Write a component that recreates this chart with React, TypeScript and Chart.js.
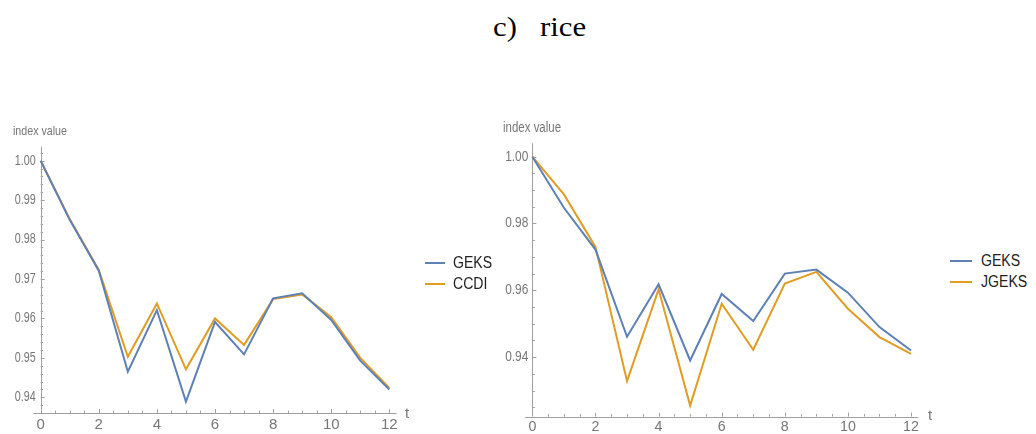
import React, { useEffect, useRef } from "react";
import { Chart, registerables } from "chart.js";

Chart.register(...registerables);

const periods = [0, 1, 2, 3, 4, 5, 6, 7, 8, 9, 10, 11, 12];
const leftGEKS = [1.0, 0.985, 0.9721, 0.9465, 0.9621, 0.9389, 0.9591, 0.9509, 0.9651, 0.9664, 0.9596, 0.9493, 0.942];
const leftCCDI = [1.0, 0.9852, 0.9723, 0.9503, 0.9638, 0.9471, 0.96, 0.9533, 0.9649, 0.9661, 0.9603, 0.95, 0.9424];
const rightGEKS = [1.0, 0.9847, 0.9722, 0.9461, 0.9618, 0.939, 0.9589, 0.9508, 0.965, 0.9662, 0.9593, 0.949, 0.942];
const rightJGEKS = [1.0, 0.9887, 0.973, 0.9328, 0.9603, 0.9255, 0.956, 0.9422, 0.962, 0.9655, 0.9545, 0.946, 0.941];
const xTickLabels = [0, 2, 4, 6, 8, 10, 12];
const leftYTicks = [0.94, 0.95, 0.96, 0.97, 0.98, 0.99, 1.0];
const rightYTicks = [0.94, 0.96, 0.98, 1.0];

const BLUE = "#5E81B5";
const ORANGE = "#E19C24";
const AXIS = "#a0a0a0";
const LABEL = "#767676";
const SANS = '"Liberation Sans", Arial, sans-serif';

type Cfg = {
  names: [string, string];
  a: number[];
  b: number[];
  yTicks: number[];
  xMin: number;
  xMax: number;
  yMin: number;
  yMax: number;
  yMinor: number;
  left: number;
  top: number;
  right: number;
  bottom: number;
  font: number;
  sx: number;
  xFont: number;
  xSx: number;
  yGap: number;
  xOff: number;
};

const axesPlugin = (cfg: Cfg) => ({
  id: "mmaAxes",
  beforeDatasetsDraw(chart: any) {
    const ctx = chart.ctx;
    const xs = chart.scales.x;
    const ys = chart.scales.y;
    const x0 = xs.getPixelForValue(0);
    const yb = ys.getPixelForValue(cfg.yMin);
    ctx.save();
    ctx.strokeStyle = AXIS;
    ctx.lineWidth = 1;
    ctx.beginPath();
    ctx.moveTo(xs.getPixelForValue(cfg.xMin), Math.round(yb) + 0.5);
    ctx.lineTo(xs.getPixelForValue(cfg.xMax), Math.round(yb) + 0.5);
    ctx.moveTo(Math.round(x0) + 0.5, yb);
    ctx.lineTo(Math.round(x0) + 0.5, ys.getPixelForValue(cfg.yMax));
    for (let v = 0.5; v <= 12.001; v += 0.5) {
      const px = Math.round(xs.getPixelForValue(v)) + 0.5;
      const major = Math.abs(v / 2 - Math.round(v / 2)) < 1e-6;
      ctx.moveTo(px, yb);
      ctx.lineTo(px, yb - (major ? 4 : 2.5));
    }
    const start = Math.ceil(cfg.yMin / cfg.yMinor - 1e-6) * cfg.yMinor;
    for (let i = 0; i < 100; i++) {
      const v = start + i * cfg.yMinor;
      if (v > cfg.yMax + 1e-9) break;
      const py = Math.round(ys.getPixelForValue(v)) + 0.5;
      const major = cfg.yTicks.some((t) => Math.abs(t - v) < 1e-6);
      ctx.moveTo(x0, py);
      ctx.lineTo(x0 + (major ? 4 : 2.5), py);
    }
    ctx.stroke();

    // tick labels, taken from the scales' own ticks
    ctx.fillStyle = LABEL;
    ctx.textBaseline = "middle";
    ctx.textAlign = "center";
    ctx.font = `${cfg.xFont}px ${SANS}`;
    for (const t of xs.ticks) {
      ctx.save();
      ctx.translate(xs.getPixelForValue(t.value), yb + cfg.xOff);
      ctx.scale(cfg.xSx, 1);
      ctx.fillText(String(t.value), 0, 0);
      ctx.restore();
    }
    ctx.textAlign = "right";
    ctx.font = `${cfg.font}px ${SANS}`;
    for (const t of ys.ticks) {
      ctx.save();
      ctx.translate(x0 - cfg.yGap, ys.getPixelForValue(t.value));
      ctx.scale(cfg.sx, 1);
      ctx.fillText(Number(t.value).toFixed(2), 0, 0);
      ctx.restore();
    }
    ctx.restore();
  },
});

function MmaChart({ cfg, width, height }: { cfg: Cfg; width: number; height: number }) {
  const ref = useRef<HTMLCanvasElement | null>(null);
  useEffect(() => {
    if (!ref.current) return;
    const chart = new Chart(ref.current, {
      type: "line",
      data: {
        labels: periods,
        datasets: [
          {
            label: cfg.names[0],
            data: periods.map((t, i) => ({ x: t, y: cfg.a[i] })),
            borderColor: BLUE,
            backgroundColor: BLUE,
            borderWidth: 2,
            pointRadius: 0,
            tension: 0,
          },
          {
            label: cfg.names[1],
            data: periods.map((t, i) => ({ x: t, y: cfg.b[i] })),
            borderColor: ORANGE,
            backgroundColor: ORANGE,
            borderWidth: 2,
            pointRadius: 0,
            tension: 0,
          },
        ],
      },
      options: {
        responsive: false,
        animation: false,
        layout: { padding: { left: 0, top: cfg.top, right: cfg.right, bottom: 0 } },
        plugins: { legend: { display: false }, tooltip: { enabled: false } },
        scales: {
          x: {
            type: "linear",
            min: cfg.xMin,
            max: cfg.xMax,
            grid: { display: false },
            border: { display: false },
            afterBuildTicks: (s: any) => {
              s.ticks = xTickLabels.map((v) => ({ value: v }));
            },
            afterFit: (s: any) => {
              s.height = cfg.bottom;
            },
            ticks: { display: false },
          },
          y: {
            type: "linear",
            min: cfg.yMin,
            max: cfg.yMax,
            grid: { display: false },
            border: { display: false },
            afterBuildTicks: (s: any) => {
              s.ticks = cfg.yTicks.map((v) => ({ value: v }));
            },
            afterFit: (s: any) => {
              s.width = cfg.left;
            },
            ticks: { display: false },
          },
        },
      },
      plugins: [axesPlugin(cfg)],
    });
    return () => chart.destroy();
  }, []);
  return <canvas ref={ref} width={width} height={height} style={{ display: "block" }} />;
}

const leftCfg: Cfg = {
  names: ["GEKS", "CCDI"],
  a: leftGEKS,
  b: leftCCDI,
  yTicks: leftYTicks,
  xMin: -0.25,
  xMax: 12.25,
  yMin: 0.936,
  yMax: 1.0035,
  yMinor: 0.002,
  left: 33.4,
  top: 36.9,
  right: 23.4,
  bottom: 20.9,
  font: 14,
  sx: 0.77,
  xFont: 15,
  xSx: 1.0,
  yGap: 5,
  xOff: 12,
};

const rightCfg: Cfg = {
  names: ["GEKS", "JGEKS"],
  a: rightGEKS,
  b: rightJGEKS,
  yTicks: rightYTicks,
  xMin: -0.23,
  xMax: 12.23,
  yMin: 0.9222,
  yMax: 1.004,
  yMinor: 0.005,
  left: 55.1,
  top: 33.3,
  right: 21.7,
  bottom: 17.4,
  font: 14,
  sx: 0.85,
  xFont: 15,
  xSx: 0.95,
  yGap: 4,
  xOff: 10.5,
};

const abs = (left: number, top: number, extra: React.CSSProperties = {}): React.CSSProperties => ({
  position: "absolute",
  left,
  top,
  whiteSpace: "nowrap",
  ...extra,
});

const squeeze = (sx: number): React.CSSProperties => ({ transform: `scaleX(${sx})`, transformOrigin: "0 50%" });

function LegendItem({ x, y, lineW, textX, color, text }: { x: number; y: number; lineW: number; textX: number; color: string; text: string }) {
  return (
    <>
      <div style={abs(x, y - 1, { width: lineW, height: 2, background: color })} />
      <div style={abs(textX, y - 9, { font: `16px ${SANS}`, lineHeight: "18px", color: "#222", ...squeeze(0.88) })}>{text}</div>
    </>
  );
}

const TITLE_FONT = '28px "Liberation Serif", "Times New Roman", serif';

export default function App() {
  return (
    <div style={{ position: "absolute", left: 0, top: 0, width: 1036, height: 434, background: "#fff", overflow: "hidden" }}>
      <div style={abs(493, 13, { font: TITLE_FONT, lineHeight: "28px", color: "#000", ...squeeze(1.1) })}>c)</div>
      <div style={abs(540, 13, { font: TITLE_FONT, lineHeight: "28px", color: "#000", ...squeeze(1.1) })}>rice</div>

      <div style={abs(0, 110, { width: 420, height: 324 })}>
        <MmaChart cfg={leftCfg} width={420} height={324} />
      </div>
      <div style={abs(470, 110, { width: 470, height: 324 })}>
        <MmaChart cfg={rightCfg} width={470} height={324} />
      </div>

      <div style={abs(13, 124, { font: `13px ${SANS}`, lineHeight: "13px", color: LABEL, ...squeeze(0.82) })}>index value</div>
      <div style={abs(503, 120, { font: `14px ${SANS}`, lineHeight: "14px", color: LABEL, ...squeeze(0.82) })}>index value</div>
      <div style={abs(405, 405, { font: `15px ${SANS}`, lineHeight: "15px", color: LABEL })}>t</div>
      <div style={abs(928, 407, { font: `15px ${SANS}`, lineHeight: "15px", color: LABEL })}>t</div>

      <LegendItem x={425} y={263} lineW={20} textX={453} color={BLUE} text="GEKS" />
      <LegendItem x={425} y={284} lineW={20} textX={453} color={ORANGE} text="CCDI" />
      <LegendItem x={950} y={261} lineW={22} textX={981} color={BLUE} text="GEKS" />
      <LegendItem x={950} y={282} lineW={22} textX={981} color={ORANGE} text="JGEKS" />
    </div>
  );
}
